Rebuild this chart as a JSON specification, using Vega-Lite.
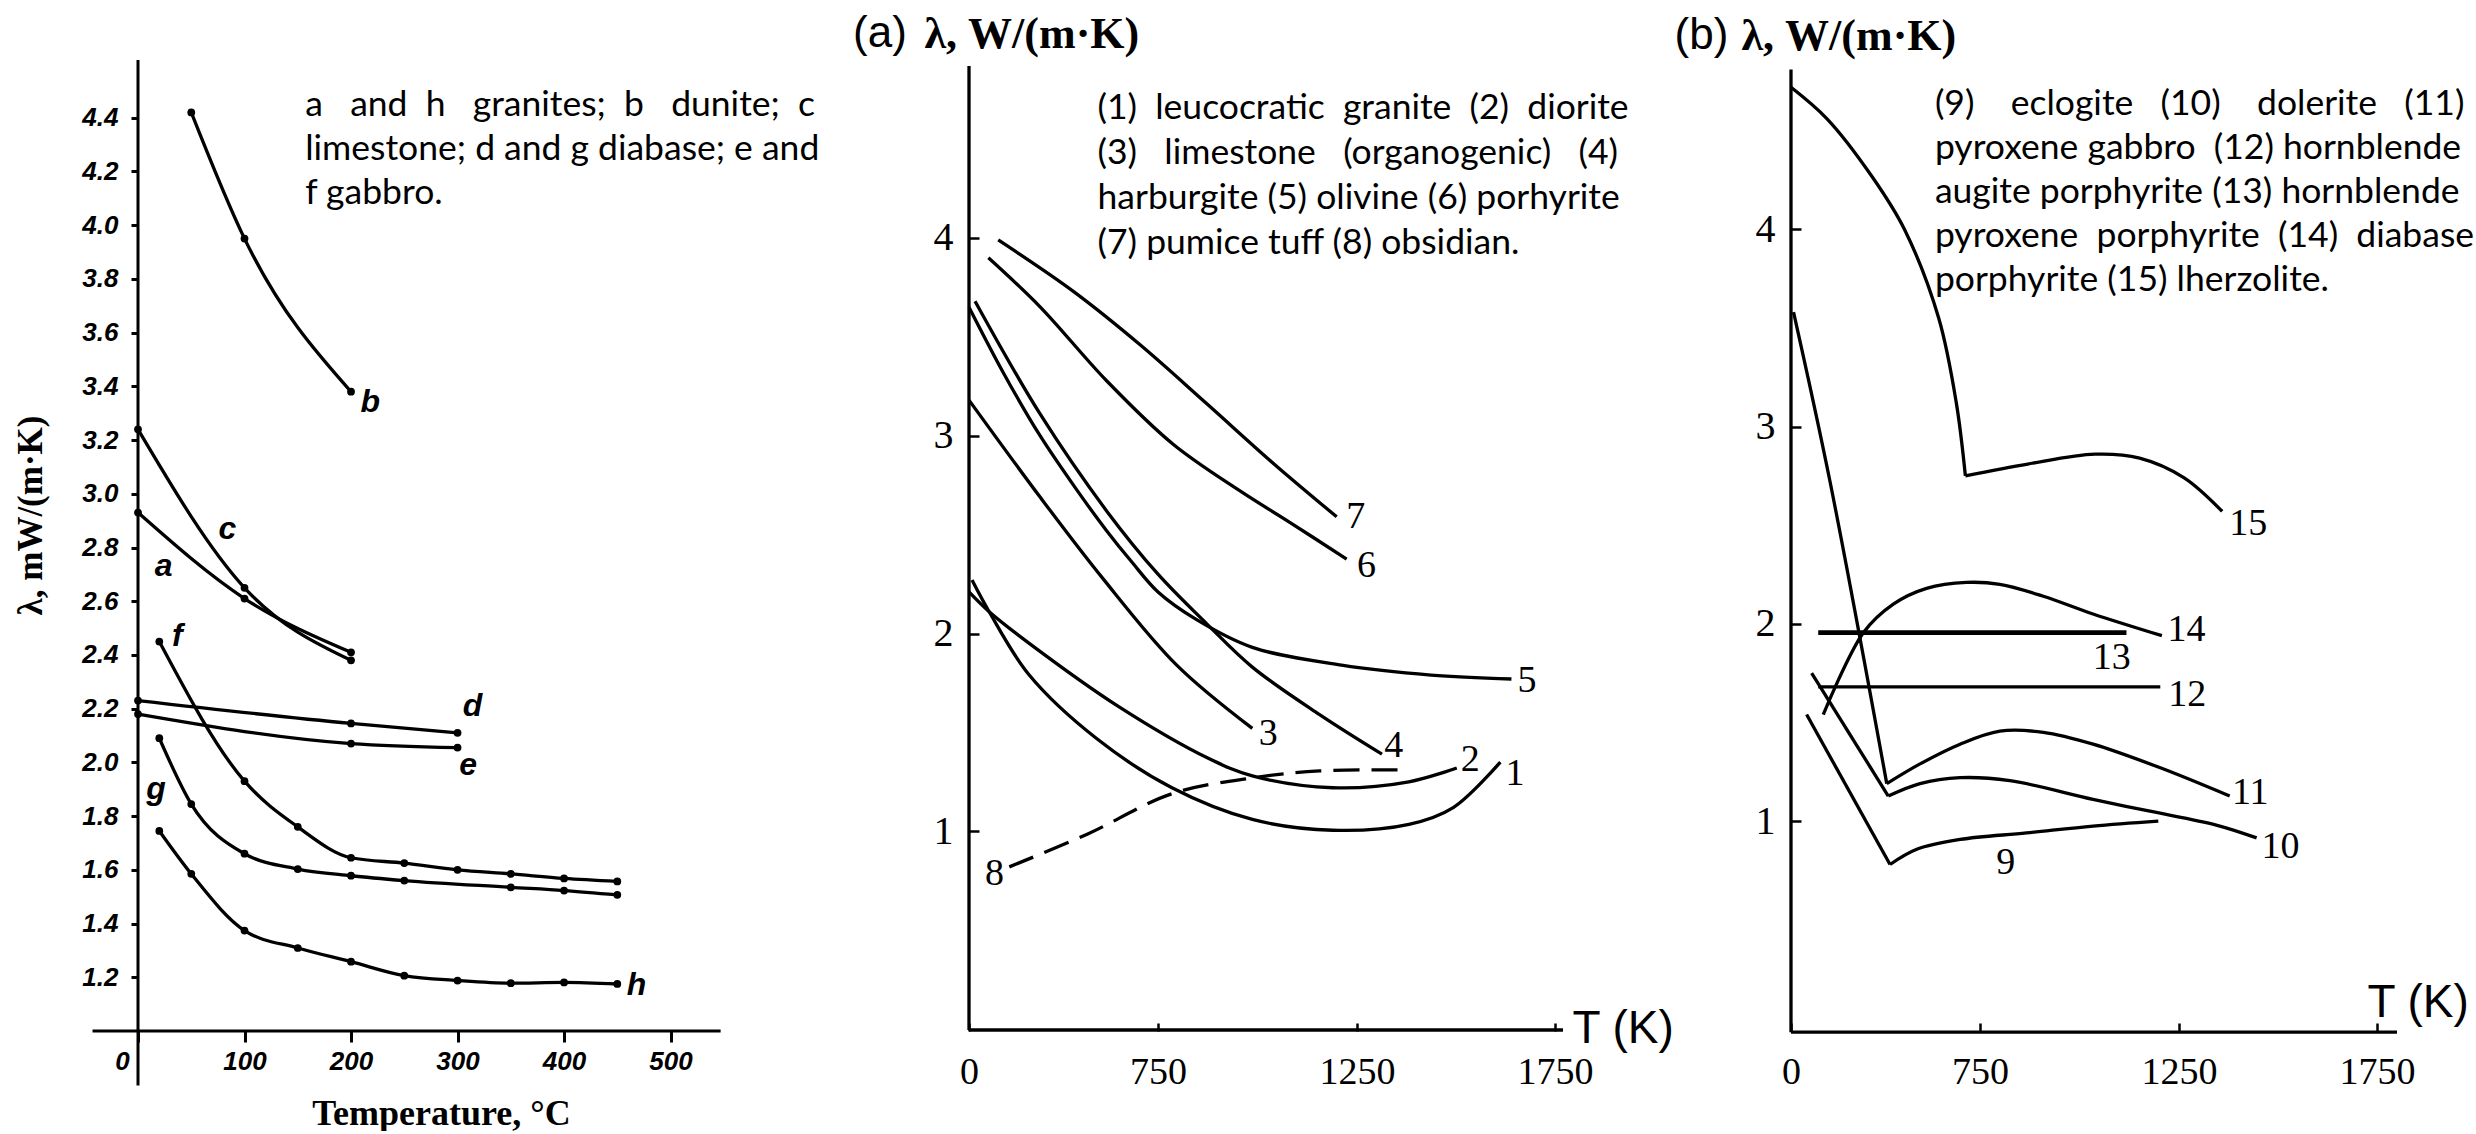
{
  "$schema": "https://vega.github.io/schema/vega-lite/v6.json",
  "background": "white",
  "padding": {"left": 13, "top": 11, "right": 0, "bottom": 0},
  "bounds": "flush",
  "spacing": 216,
  "config": {
    "view": {"stroke": null},
    "axis": {"labelColor": "black", "tickColor": "black", "titleColor": "black", "grid": false, "domain": false, "labelOverlap": false, "labelFlush": false}
  },
  "datasets": {
    "axes1": [
      {"x1": -42.7, "x2": 547, "y1": 1.0, "y2": 1.0},
      {"x1": 0, "x2": 0, "y1": 0.797, "y2": 4.615}
    ],
    "axes2": [
      {"x1": 0, "x2": 1770, "y1": -0.005, "y2": -0.005},
      {"x1": 0, "x2": 0, "y1": -0.005, "y2": 4.87}
    ],
    "axes3": [
      {"x1": 0, "x2": 1800, "y1": -0.07, "y2": -0.07},
      {"x1": 0, "x2": 0, "y1": -0.07, "y2": 4.81}
    ],
    "p1": [
      {"s": "b", "T": 50, "v": 4.42}, {"s": "b", "T": 100, "v": 3.95}, {"s": "b", "T": 200, "v": 3.38},
      {"s": "c", "T": 0, "v": 3.24}, {"s": "c", "T": 100, "v": 2.65}, {"s": "c", "T": 200, "v": 2.38},
      {"s": "a", "T": 0, "v": 2.93}, {"s": "a", "T": 100, "v": 2.61}, {"s": "a", "T": 200, "v": 2.41},
      {"s": "d", "T": 0, "v": 2.23}, {"s": "d", "T": 200, "v": 2.145}, {"s": "d", "T": 300, "v": 2.11},
      {"s": "e", "T": 0, "v": 2.18}, {"s": "e", "T": 200, "v": 2.07}, {"s": "e", "T": 300, "v": 2.055},
      {"s": "f", "T": 20, "v": 2.45}, {"s": "f", "T": 100, "v": 1.93}, {"s": "f", "T": 150, "v": 1.76}, {"s": "f", "T": 200, "v": 1.645}, {"s": "f", "T": 250, "v": 1.625}, {"s": "f", "T": 300, "v": 1.6}, {"s": "f", "T": 350, "v": 1.585}, {"s": "f", "T": 400, "v": 1.568}, {"s": "f", "T": 450, "v": 1.557},
      {"s": "g", "T": 20, "v": 2.09}, {"s": "g", "T": 50, "v": 1.845}, {"s": "g", "T": 100, "v": 1.66}, {"s": "g", "T": 150, "v": 1.603}, {"s": "g", "T": 200, "v": 1.578}, {"s": "g", "T": 250, "v": 1.56}, {"s": "g", "T": 350, "v": 1.535}, {"s": "g", "T": 400, "v": 1.523}, {"s": "g", "T": 450, "v": 1.507},
      {"s": "h", "T": 20, "v": 1.745}, {"s": "h", "T": 50, "v": 1.585}, {"s": "h", "T": 100, "v": 1.374}, {"s": "h", "T": 150, "v": 1.309}, {"s": "h", "T": 200, "v": 1.258}, {"s": "h", "T": 250, "v": 1.206}, {"s": "h", "T": 300, "v": 1.188}, {"s": "h", "T": 350, "v": 1.178}, {"s": "h", "T": 400, "v": 1.181}, {"s": "h", "T": 450, "v": 1.175}
    ],
    "lab1": [
      {"label": "a", "T": 24, "v": 2.73},
      {"label": "b", "T": 218, "v": 3.34},
      {"label": "c", "T": 84, "v": 2.87},
      {"label": "d", "T": 314, "v": 2.21},
      {"label": "e", "T": 310, "v": 1.99},
      {"label": "f", "T": 37, "v": 2.47},
      {"label": "g", "T": 17, "v": 1.9},
      {"label": "h", "T": 468, "v": 1.17}
    ],
    "note1": [
      {"T": 157, "v": 4.51, "text": "a\u00a0\u00a0 and\u00a0 h\u00a0\u00a0 granites;\u00a0 b\u00a0\u00a0 dunite;\u00a0 c\nlimestone; d and g diabase; e and\nf gabbro."}
    ],
    "p2": [
      {"s": "1", "K": 12, "v": 2.27}, {"s": "1", "K": 80, "v": 2.11}, {"s": "1", "K": 239, "v": 1.79}, {"s": "1", "K": 505, "v": 1.47}, {"s": "1", "K": 785, "v": 1.22}, {"s": "1", "K": 987, "v": 1.06}, {"s": "1", "K": 1189, "v": 1.005}, {"s": "1", "K": 1381, "v": 1.035}, {"s": "1", "K": 1493, "v": 1.12}, {"s": "1", "K": 1612, "v": 1.35},
      {"s": "2", "K": 0, "v": 2.21}, {"s": "2", "K": 80, "v": 2.11}, {"s": "2", "K": 239, "v": 1.95}, {"s": "2", "K": 594, "v": 1.63}, {"s": "2", "K": 875, "v": 1.37}, {"s": "2", "K": 987, "v": 1.28}, {"s": "2", "K": 1189, "v": 1.22}, {"s": "2", "K": 1381, "v": 1.25}, {"s": "2", "K": 1502, "v": 1.32},
      {"s": "3", "K": 0, "v": 3.18}, {"s": "3", "K": 282, "v": 2.69}, {"s": "3", "K": 530, "v": 2.28}, {"s": "3", "K": 797, "v": 1.84}, {"s": "3", "K": 987, "v": 1.52},
      {"s": "4", "K": 24, "v": 3.68}, {"s": "4", "K": 282, "v": 3.11}, {"s": "4", "K": 546, "v": 2.62}, {"s": "4", "K": 750, "v": 2.3}, {"s": "4", "K": 872, "v": 2.05}, {"s": "4", "K": 987, "v": 1.83}, {"s": "4", "K": 1156, "v": 1.59}, {"s": "4", "K": 1313, "v": 1.39},
      {"s": "5", "K": 0, "v": 3.65}, {"s": "5", "K": 140, "v": 3.31}, {"s": "5", "K": 282, "v": 3.0}, {"s": "5", "K": 420, "v": 2.74}, {"s": "5", "K": 546, "v": 2.52}, {"s": "5", "K": 647, "v": 2.36}, {"s": "5", "K": 750, "v": 2.21}, {"s": "5", "K": 847, "v": 2.07}, {"s": "5", "K": 987, "v": 1.93}, {"s": "5", "K": 1211, "v": 1.84}, {"s": "5", "K": 1437, "v": 1.79}, {"s": "5", "K": 1640, "v": 1.77},
      {"s": "6", "K": 77, "v": 3.9}, {"s": "6", "K": 282, "v": 3.652}, {"s": "6", "K": 546, "v": 3.278}, {"s": "6", "K": 788, "v": 2.957}, {"s": "6", "K": 956, "v": 2.721}, {"s": "6", "K": 1082, "v": 2.561}, {"s": "6", "K": 1224, "v": 2.376},
      {"s": "7", "K": 116, "v": 3.99}, {"s": "7", "K": 414, "v": 3.73}, {"s": "7", "K": 679, "v": 3.46}, {"s": "7", "K": 872, "v": 3.163}, {"s": "7", "K": 1040, "v": 2.86}, {"s": "7", "K": 1199, "v": 2.59},
      {"s": "8", "K": 160, "v": 0.82}, {"s": "8", "K": 469, "v": 0.985}, {"s": "8", "K": 785, "v": 1.19}, {"s": "8", "K": 987, "v": 1.27}, {"s": "8", "K": 1156, "v": 1.305}, {"s": "8", "K": 1375, "v": 1.31}
    ],
    "lab2": [
      {"label": "1", "K": 1649, "v": 1.29},
      {"label": "2", "K": 1536, "v": 1.36},
      {"label": "3", "K": 1027, "v": 1.49},
      {"label": "4", "K": 1343, "v": 1.43},
      {"label": "5", "K": 1679, "v": 1.76},
      {"label": "6", "K": 1274, "v": 2.34},
      {"label": "7", "K": 1247, "v": 2.59},
      {"label": "8", "K": 101, "v": 0.785}
    ],
    "head2": [{"K": -460, "v": 4.967, "text": "(a)"}],
    "note2": [
      {"K": 510, "v": 4.743, "text": "(1)\u00a0 leucocratic\u00a0 granite\u00a0 (2)\u00a0 diorite\n(3)\u00a0\u00a0 limestone\u00a0\u00a0 (organogenic)\u00a0\u00a0 (4)\nharburgite (5) olivine (6) porhyrite\n(7) pumice tuff (8) obsidian."}
    ],
    "p3": [
      {"seg": "9a", "s": "9", "K": 62, "v": 1.54}, {"seg": "9a", "s": "9", "K": 393, "v": 0.78},
      {"seg": "9b", "s": "9", "K": 393, "v": 0.78}, {"seg": "9b", "s": "9", "K": 499, "v": 0.857}, {"seg": "9b", "s": "9", "K": 671, "v": 0.907}, {"seg": "9b", "s": "9", "K": 867, "v": 0.94}, {"seg": "9b", "s": "9", "K": 1034, "v": 0.975}, {"seg": "9b", "s": "9", "K": 1198, "v": 1.0},
      {"seg": "10a", "s": "10", "K": 82, "v": 1.75}, {"seg": "10a", "s": "10", "K": 386, "v": 1.127},
      {"seg": "10b", "s": "10", "K": 386, "v": 1.127}, {"seg": "10b", "s": "10", "K": 512, "v": 1.19}, {"seg": "10b", "s": "10", "K": 671, "v": 1.22}, {"seg": "10b", "s": "10", "K": 825, "v": 1.205}, {"seg": "10b", "s": "10", "K": 1034, "v": 1.11}, {"seg": "10b", "s": "10", "K": 1177, "v": 1.05}, {"seg": "10b", "s": "10", "K": 1344, "v": 0.98}, {"seg": "10b", "s": "10", "K": 1446, "v": 0.915},
      {"seg": "11a", "s": "11", "K": 10, "v": 3.58}, {"seg": "11a", "s": "11", "K": 155, "v": 2.72}, {"seg": "11a", "s": "11", "K": 380, "v": 1.19},
      {"seg": "11b", "s": "11", "K": 380, "v": 1.19}, {"seg": "11b", "s": "11", "K": 512, "v": 1.29}, {"seg": "11b", "s": "11", "K": 671, "v": 1.39}, {"seg": "11b", "s": "11", "K": 800, "v": 1.456}, {"seg": "11b", "s": "11", "K": 909, "v": 1.45}, {"seg": "11b", "s": "11", "K": 1034, "v": 1.39}, {"seg": "11b", "s": "11", "K": 1203, "v": 1.27}, {"seg": "11b", "s": "11", "K": 1378, "v": 1.127},
      {"seg": "12", "s": "12", "K": 108, "v": 1.68}, {"seg": "12", "s": "12", "K": 1203, "v": 1.68},
      {"seg": "13", "s": "13", "K": 108, "v": 1.955}, {"seg": "13", "s": "13", "K": 1118, "v": 1.955},
      {"seg": "14", "s": "14", "K": 128, "v": 1.54}, {"seg": "14", "s": "14", "K": 287, "v": 1.955}, {"seg": "14", "s": "14", "K": 406, "v": 2.1}, {"seg": "14", "s": "14", "K": 538, "v": 2.18}, {"seg": "14", "s": "14", "K": 697, "v": 2.21}, {"seg": "14", "s": "14", "K": 800, "v": 2.2}, {"seg": "14", "s": "14", "K": 909, "v": 2.14}, {"seg": "14", "s": "14", "K": 1034, "v": 2.05}, {"seg": "14", "s": "14", "K": 1207, "v": 1.94},
      {"seg": "15a", "s": "15", "K": 0, "v": 4.72}, {"seg": "15a", "s": "15", "K": 143, "v": 4.56}, {"seg": "15a", "s": "15", "K": 320, "v": 4.27}, {"seg": "15a", "s": "15", "K": 450, "v": 4.0}, {"seg": "15a", "s": "15", "K": 586, "v": 3.55}, {"seg": "15a", "s": "15", "K": 656, "v": 3.12}, {"seg": "15a", "s": "15", "K": 692, "v": 2.75},
      {"seg": "15b", "s": "15", "K": 692, "v": 2.75}, {"seg": "15b", "s": "15", "K": 870, "v": 2.81}, {"seg": "15b", "s": "15", "K": 1039, "v": 2.86}, {"seg": "15b", "s": "15", "K": 1151, "v": 2.84}, {"seg": "15b", "s": "15", "K": 1263, "v": 2.74}, {"seg": "15b", "s": "15", "K": 1359, "v": 2.57}
    ],
    "lab3": [
      {"label": "9", "K": 815, "v": 0.789},
      {"label": "10", "K": 1506, "v": 0.87},
      {"label": "11", "K": 1430, "v": 1.14},
      {"label": "12", "K": 1271, "v": 1.639},
      {"label": "13", "K": 1081, "v": 1.825},
      {"label": "14", "K": 1269, "v": 1.968},
      {"label": "15", "K": 1425, "v": 2.504}
    ],
    "head3": [{"K": -462, "v": 4.913, "text": "(b)"}],
    "note3": [
      {"K": 571, "v": 4.719, "text": "(9)\u00a0\u00a0\u00a0 eclogite\u00a0\u00a0 (10)\u00a0\u00a0\u00a0 dolerite\u00a0\u00a0 (11)\npyroxene gabbro\u00a0 (12) hornblende\naugite porphyrite (13) hornblende\npyroxene\u00a0 porphyrite\u00a0 (14)\u00a0 diabase\nporphyrite (15) lherzolite."}
    ]
  },
  "hconcat": [
    {
      "width": 615,
      "height": 971,
      "layer": [
        {
          "data": {"name": "axes1"},
          "mark": {"type": "rule", "strokeWidth": 3, "color": "black"},
          "encoding": {
            "x": {
              "field": "x1", "type": "quantitative",
              "scale": {"domain": [0, 577.4], "nice": false, "zero": false},
              "axis": {
                "values": [0, 100, 200, 300, 400, 500],
                "tickSize": 11, "tickWidth": 3, "labelPadding": 6,
                "labelFont": "Liberation Sans", "labelFontStyle": "italic", "labelFontWeight": "bold", "labelFontSize": 26,
                "labelOffset": {"condition": {"test": "datum.value === 0", "value": -16}, "value": 0},
                "title": "Temperature, °C",
                "titleFont": "Liberation Serif", "titleFontWeight": "bold", "titleFontSize": 36,
                "titleX": 303, "titleY": 82, "titleAlign": "center", "titleBaseline": "middle"
              }
            },
            "x2": {"field": "x2"},
            "y": {
              "field": "y1", "type": "quantitative",
              "scale": {"domain": [1.0, 4.615], "nice": false, "zero": false},
              "axis": {
                "values": [1.2, 1.4, 1.6, 1.8, 2.0, 2.2, 2.4, 2.6, 2.8, 3.0, 3.2, 3.4, 3.6, 3.8, 4.0, 4.2, 4.4],
                "format": ".1f",
                "tickSize": 7, "tickWidth": 3, "labelPadding": 13,
                "labelFont": "Liberation Sans", "labelFontStyle": "italic", "labelFontWeight": "bold", "labelFontSize": 26,
                "title": "λ, mW/(m·K)",
                "titleFont": "Liberation Serif", "titleFontWeight": "bold", "titleFontSize": 35,
                "titleX": -108, "titleY": 455, "titleAngle": -90, "titleAlign": "center", "titleBaseline": "middle"
              }
            },
            "y2": {"field": "y2"}
          }
        },
        {
          "data": {"name": "p1"},
          "mark": {"type": "line", "interpolate": "monotone", "strokeWidth": 3.3, "color": "black"},
          "encoding": {
            "x": {"field": "T", "type": "quantitative"},
            "y": {"field": "v", "type": "quantitative"},
            "detail": {"field": "s", "type": "nominal"}
          }
        },
        {
          "data": {"name": "p1"},
          "mark": {"type": "point", "filled": true, "size": 60, "color": "black", "opacity": 1},
          "encoding": {
            "x": {"field": "T", "type": "quantitative"},
            "y": {"field": "v", "type": "quantitative"}
          }
        },
        {
          "data": {"name": "lab1"},
          "mark": {"type": "text", "font": "Liberation Sans", "fontStyle": "italic", "fontWeight": "bold", "fontSize": 32, "align": "center", "baseline": "middle", "color": "black"},
          "encoding": {
            "x": {"field": "T", "type": "quantitative"},
            "y": {"field": "v", "type": "quantitative"},
            "text": {"field": "label", "type": "nominal"}
          }
        },
        {
          "data": {"name": "note1"},
          "mark": {"type": "text", "font": "Lato", "fontSize": 35.5, "lineHeight": 44, "align": "left", "baseline": "top", "lineBreak": "\n", "color": "black"},
          "encoding": {
            "x": {"field": "T", "type": "quantitative"},
            "y": {"field": "v", "type": "quantitative"},
            "text": {"field": "text", "type": "nominal"}
          }
        }
      ]
    },
    {
      "width": 606,
      "height": 971,
      "layer": [
        {
          "data": {"name": "axes2"},
          "mark": {"type": "rule", "strokeWidth": 3.3, "color": "black"},
          "encoding": {
            "x": {
              "field": "x1", "type": "quantitative",
              "scale": {"domain": [0, 750, 1250, 1750, 1800], "range": [0, 189, 388, 586, 606], "nice": false, "zero": false},
              "axis": {
                "values": [0, 750, 1250, 1750], "format": "d",
                "tickSize": -8, "tickWidth": 2.5, "labelPadding": 30,
                "labelFont": "Liberation Serif", "labelFontSize": 38,
                "title": "T (K)",
                "titleFont": "Liberation Sans", "titleFontWeight": "normal", "titleFontSize": 46,
                "titleX": 603, "titleY": 11, "titleAlign": "left", "titleBaseline": "alphabetic"
              }
            },
            "x2": {"field": "x2"},
            "y": {
              "field": "y1", "type": "quantitative",
              "scale": {"domain": [-0.01, 4.9], "nice": false, "zero": false},
              "axis": {
                "values": [1, 2, 3, 4], "format": "d",
                "tickSize": -10, "tickWidth": 2.5, "labelPadding": 26,
                "labelFont": "Liberation Serif", "labelFontSize": 40,
                "title": "λ, W/(m·K)",
                "titleFont": "Liberation Serif", "titleFontWeight": "bold", "titleFontSize": 44,
                "titleX": -45, "titleY": -13, "titleAngle": 0, "titleAlign": "left", "titleBaseline": "alphabetic"
              }
            },
            "y2": {"field": "y2"}
          }
        },
        {
          "data": {"name": "p2"},
          "transform": [{"filter": "datum.s !== '8'"}],
          "mark": {"type": "line", "interpolate": "catmull-rom", "strokeWidth": 3.3, "color": "black"},
          "encoding": {
            "x": {"field": "K", "type": "quantitative"},
            "y": {"field": "v", "type": "quantitative"},
            "detail": {"field": "s", "type": "nominal"}
          }
        },
        {
          "data": {"name": "p2"},
          "transform": [{"filter": "datum.s === '8'"}],
          "mark": {"type": "line", "interpolate": "catmull-rom", "strokeWidth": 3.3, "color": "black", "strokeDash": [26, 12]},
          "encoding": {
            "x": {"field": "K", "type": "quantitative"},
            "y": {"field": "v", "type": "quantitative"}
          }
        },
        {
          "data": {"name": "lab2"},
          "mark": {"type": "text", "font": "Liberation Serif", "fontSize": 38, "align": "center", "baseline": "middle", "color": "black"},
          "encoding": {
            "x": {"field": "K", "type": "quantitative"},
            "y": {"field": "v", "type": "quantitative"},
            "text": {"field": "label", "type": "nominal"}
          }
        },
        {
          "data": {"name": "head2"},
          "mark": {"type": "text", "font": "Liberation Sans", "fontSize": 44, "align": "left", "baseline": "alphabetic", "color": "black"},
          "encoding": {
            "x": {"field": "K", "type": "quantitative"},
            "y": {"field": "v", "type": "quantitative"},
            "text": {"field": "text", "type": "nominal"}
          }
        },
        {
          "data": {"name": "note2"},
          "mark": {"type": "text", "font": "Lato", "fontSize": 35.5, "lineHeight": 45, "align": "left", "baseline": "top", "lineBreak": "\n", "color": "black"},
          "encoding": {
            "x": {"field": "K", "type": "quantitative"},
            "y": {"field": "v", "type": "quantitative"},
            "text": {"field": "text", "type": "nominal"}
          }
        }
      ]
    },
    {
      "width": 606,
      "height": 971,
      "layer": [
        {
          "data": {"name": "axes3"},
          "mark": {"type": "rule", "strokeWidth": 3.3, "color": "black"},
          "encoding": {
            "x": {
              "field": "x1", "type": "quantitative",
              "scale": {"domain": [0, 750, 1250, 1750, 1800], "range": [0, 189, 388, 586, 606], "nice": false, "zero": false},
              "axis": {
                "values": [0, 750, 1250, 1750], "format": "d",
                "tickSize": -8, "tickWidth": 2.5, "labelPadding": 30,
                "labelFont": "Liberation Serif", "labelFontSize": 38,
                "title": "T (K)",
                "titleFont": "Liberation Sans", "titleFontWeight": "normal", "titleFontSize": 46,
                "titleX": 576, "titleY": -15, "titleAlign": "left", "titleBaseline": "alphabetic"
              }
            },
            "x2": {"field": "x2"},
            "y": {
              "field": "y1", "type": "quantitative",
              "scale": {"domain": [-0.064, 4.858], "nice": false, "zero": false},
              "axis": {
                "values": [1, 2, 3, 4], "format": "d",
                "tickSize": -10, "tickWidth": 2.5, "labelPadding": 26,
                "labelFont": "Liberation Serif", "labelFontSize": 40,
                "title": "λ, W/(m·K)",
                "titleFont": "Liberation Serif", "titleFontWeight": "bold", "titleFontSize": 44,
                "titleX": -50, "titleY": -11, "titleAngle": 0, "titleAlign": "left", "titleBaseline": "alphabetic"
              }
            },
            "y2": {"field": "y2"}
          }
        },
        {
          "data": {"name": "p3"},
          "mark": {"type": "line", "interpolate": "catmull-rom", "color": "black"},
          "encoding": {
            "x": {"field": "K", "type": "quantitative"},
            "y": {"field": "v", "type": "quantitative"},
            "detail": {"field": "seg", "type": "nominal"},
            "strokeWidth": {"condition": {"test": "datum.s === '13'", "value": 4.8}, "value": 3.3}
          }
        },
        {
          "data": {"name": "lab3"},
          "mark": {"type": "text", "font": "Liberation Serif", "fontSize": 38, "align": "center", "baseline": "middle", "color": "black"},
          "encoding": {
            "x": {"field": "K", "type": "quantitative"},
            "y": {"field": "v", "type": "quantitative"},
            "text": {"field": "label", "type": "nominal"}
          }
        },
        {
          "data": {"name": "head3"},
          "mark": {"type": "text", "font": "Liberation Sans", "fontSize": 44, "align": "left", "baseline": "alphabetic", "color": "black"},
          "encoding": {
            "x": {"field": "K", "type": "quantitative"},
            "y": {"field": "v", "type": "quantitative"},
            "text": {"field": "text", "type": "nominal"}
          }
        },
        {
          "data": {"name": "note3"},
          "mark": {"type": "text", "font": "Lato", "fontSize": 35.5, "lineHeight": 44, "align": "left", "baseline": "top", "lineBreak": "\n", "color": "black"},
          "encoding": {
            "x": {"field": "K", "type": "quantitative"},
            "y": {"field": "v", "type": "quantitative"},
            "text": {"field": "text", "type": "nominal"}
          }
        }
      ]
    }
  ]
}
